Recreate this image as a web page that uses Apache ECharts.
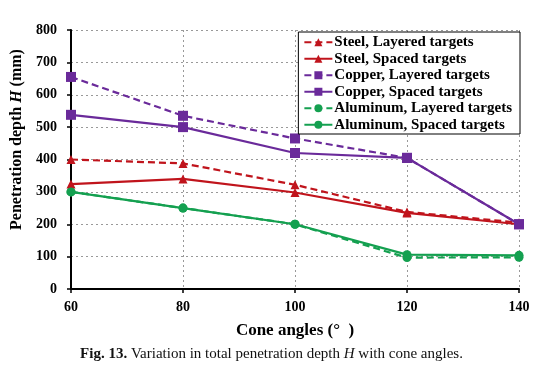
<!DOCTYPE html>
<html><head><meta charset="utf-8">
<script src="https://cdn.jsdelivr.net/npm/echarts@6/dist/echarts.min.js"></script>
<style>html,body{margin:0;padding:0;background:#fff}#c{width:543px;height:380px}</style>
</head><body><div id="c"></div>
<script>
const angles = [60, 80, 100, 120, 140];
const steelLayered = [400, 388, 322, 238, 205];
const steelSpaced = [324, 340, 298, 235, 200];
const copperLayered = [655, 535, 465, 405, 200];
const copperSpaced = [538, 500, 420, 405, 200];
const aluminumLayered = [300, 250, 200, 97, 98];
const aluminumSpaced = [300, 250, 200, 106, 104];
const xTicks = [60, 80, 100, 120, 140];
const yTicks = [0, 100, 200, 300, 400, 500, 600, 700, 800];

const RED = '#c0141c', PURPLE = '#6a2a9a', GREEN = '#14a050';
const serif = '"Liberation Serif", "DejaVu Serif", serif';

function mk(name, vals, color, dashed, symbol, size) {
  return {
    name, type: 'line', data: angles.map((a, i) => [a, vals[i]]),
    symbol, symbolSize: size, showSymbol: true,
    lineStyle: { color, width: 2.2, type: dashed ? [7, 4] : 'solid' },
    itemStyle: { color }, z: dashed ? 3 : 4, animation: false
  };
}
const chart = echarts.init(document.getElementById('c'));
chart.setOption({
  animation: false,
  grid: { left: 71, right: 24, top: 30, bottom: 91 },
  xAxis: {
    type: 'value', min: 60, max: 140, interval: 20,
    axisLine: { lineStyle: { color: '#000', width: 2 } },
    axisTick: { show: true, inside: false, length: 4, lineStyle: { color: '#000', width: 1.5 } },
    axisLabel: { color: '#000', fontFamily: serif, fontWeight: 'bold', fontSize: 14, margin: 11,
      formatter: v => xTicks.includes(v) ? String(v) : '' },
    splitLine: { show: true, lineStyle: { color: '#999', type: [2, 3], width: 1 } },
    name: 'Cone angles (°  )', nameLocation: 'middle', nameGap: 33,
    nameTextStyle: { color: '#000', fontFamily: serif, fontWeight: 'bold', fontSize: 17 }
  },
  yAxis: {
    type: 'value', min: 0, max: 800, interval: 100,
    axisLine: { show: true, lineStyle: { color: '#000', width: 2 } },
    axisTick: { show: true, length: 4, lineStyle: { color: '#000', width: 1.5 } },
    axisLabel: { color: '#000', fontFamily: serif, fontWeight: 'bold', fontSize: 14, margin: 14,
      formatter: v => yTicks.includes(v) ? String(v) : '' },
    splitLine: { show: true, lineStyle: { color: '#999', type: [2, 3], width: 1 } },
    name: '{b|Penetration depth }{i|H}{b| (mm)}', nameLocation: 'middle', nameGap: 36,
    nameTextStyle: { color: '#000', fontFamily: serif, fontWeight: 'bold', fontSize: 16,
      padding: [0, 0, 0, 40],
      rich: { b: { fontFamily: serif, fontWeight: 'bold', fontSize: 16, color: '#000' },
              i: { fontFamily: serif, fontWeight: 'bold', fontStyle: 'italic', fontSize: 16, color: '#000' } } }
  },
  legend: {
    right: 23, top: 32, orient: 'vertical', itemGap: 0, itemWidth: 28, itemHeight: 10,
    backgroundColor: '#fff', borderColor: '#000', borderWidth: 1, padding: [2, 8, 1, 5],
    textStyle: { color: '#000', fontFamily: serif, fontWeight: 'bold', fontSize: 15, lineHeight: 16.5,
      padding: [0, 0, 0, -3] },
    data: ['Steel, Layered targets', 'Steel, Spaced targets', 'Copper, Layered targets',
           'Copper, Spaced targets', 'Aluminum, Layered targets', 'Aluminum, Spaced targets']
  },
  series: [
    mk('Steel, Layered targets', steelLayered, RED, true, 'triangle', 9),
    mk('Steel, Spaced targets', steelSpaced, RED, false, 'triangle', 9),
    mk('Copper, Layered targets', copperLayered, PURPLE, true, 'rect', 10),
    mk('Copper, Spaced targets', copperSpaced, PURPLE, false, 'rect', 10),
    mk('Aluminum, Layered targets', aluminumLayered, GREEN, true, 'circle', 9),
    mk('Aluminum, Spaced targets', aluminumSpaced, GREEN, false, 'circle', 9)
  ],
  graphic: [{
    type: 'text', left: 'center', top: 347,
    style: {
      text: '{b|Fig. 13.} Variation in total penetration depth {i|H} with cone angles.',
      fontFamily: serif, fontSize: 15, fill: '#111',
      rich: { b: { fontFamily: serif, fontWeight: 'bold', fontSize: 15, fill: '#111' },
              i: { fontFamily: serif, fontStyle: 'italic', fontSize: 15, fill: '#111' } }
    }
  }]
});
</script></body></html>
